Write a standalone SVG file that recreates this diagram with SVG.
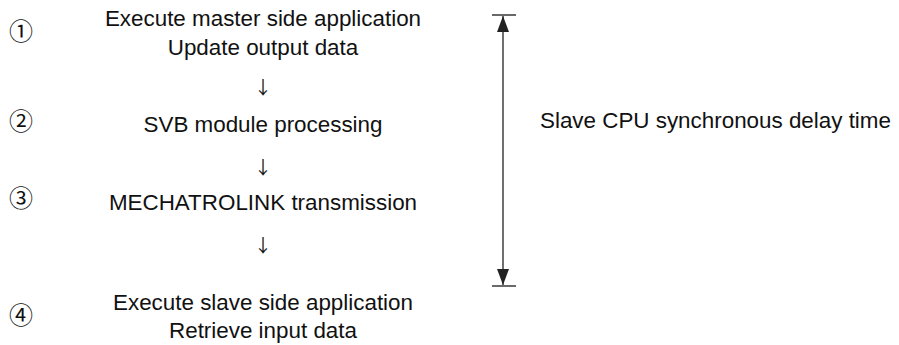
<svg xmlns="http://www.w3.org/2000/svg" width="899" height="345" viewBox="0 0 899 345">
<style>
.t{font-family:"Liberation Sans",Arial,sans-serif;font-size:22.4px;fill:#111;text-anchor:middle}
.lbl{font-family:"Liberation Sans",Arial,sans-serif;font-size:22.4px;fill:#111}
.n{font-family:"Noto Sans CJK JP","DejaVu Sans",sans-serif;font-size:24px;fill:#111;text-anchor:middle}
.ar{font-family:"Noto Sans CJK JP","DejaVu Sans",sans-serif;font-size:18px;fill:#111;text-anchor:middle}
.tick{stroke:#444;stroke-width:1.6}
.dim{stroke:#222;stroke-width:1.3}
</style>
<defs>
<marker id="ah" viewBox="0 0 16 12" refX="16" refY="6" markerWidth="16" markerHeight="12" markerUnits="userSpaceOnUse" orient="auto">
<path d="M0,0 L16,6 L0,12 Z" fill="#222"/>
</marker>
</defs>
<rect width="899" height="345" fill="#fff"/>
<g id="step1">
<text class="n" x="21" y="40">①</text>
<text class="t" x="263" y="26">Execute master side application</text>
<text class="t" x="263" y="55">Update output data</text>
</g>
<g id="step2">
<text class="n" x="21" y="130">②</text>
<text class="t" x="263" y="132">SVB module processing</text>
</g>
<g id="step3">
<text class="n" x="21" y="207">③</text>
<text class="t" x="263" y="210">MECHATROLINK transmission</text>
</g>
<g id="step4">
<text class="n" x="21" y="324">④</text>
<text class="t" x="263" y="310">Execute slave side application</text>
<text class="t" x="263" y="338">Retrieve input data</text>
</g>
<g id="connectors">
<text class="ar" x="263" y="94">↓</text>
<text class="ar" x="263" y="174">↓</text>
<text class="ar" x="263" y="252">↓</text>
<line class="tick" x1="492" y1="15" x2="516" y2="15"/>
<line class="tick" x1="492" y1="286" x2="516" y2="286"/>
<line class="dim" x1="503" y1="150" x2="503" y2="16" marker-end="url(#ah)"/>
<line class="dim" x1="503" y1="150" x2="503" y2="285" marker-end="url(#ah)"/>
</g>
<g id="label">
<text class="lbl" x="540" y="128">Slave CPU synchronous delay time</text>
</g>
</svg>
